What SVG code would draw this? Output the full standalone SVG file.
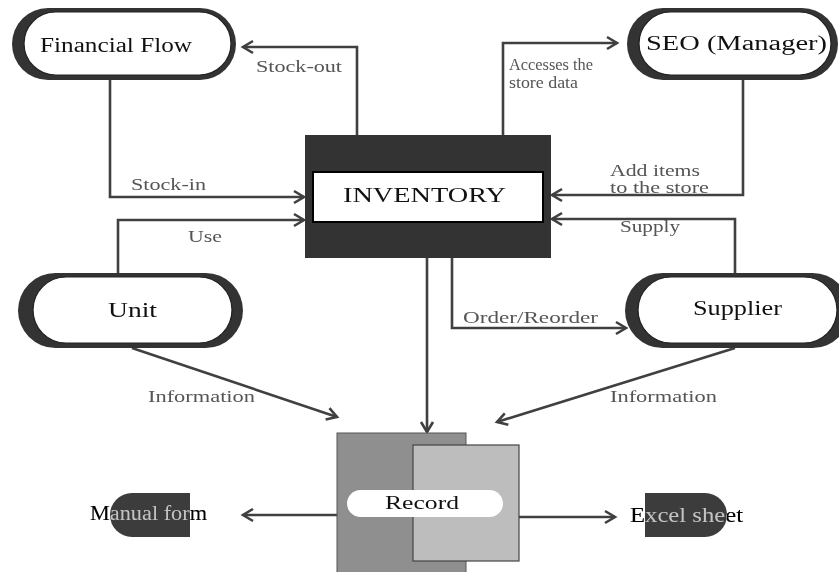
<svg xmlns="http://www.w3.org/2000/svg" width="839" height="572" viewBox="0 0 839 572">
<defs>
<marker id="arr" markerUnits="userSpaceOnUse" markerWidth="16" markerHeight="16" viewBox="0 0 16 16" refX="13" refY="8" orient="auto">
<path d="M3,2 L13,8 L3,14" fill="none" stroke="#404040" stroke-width="2.6"/>
</marker>
</defs>
<style>
.pillo{fill:#333;}
.pilli{fill:#fff;stroke:#222;stroke-width:1.2;}
.nt{font-family:"Liberation Serif","Times New Roman",serif;font-size:20px;fill:#111;}
.lb{font-family:"Liberation Serif","Times New Roman",serif;font-size:16px;fill:#555;}
.cn{fill:none;stroke:#404040;stroke-width:2.6;marker-end:url(#arr);}
.blend{mix-blend-mode:difference;fill:#fff;font-family:"Liberation Serif","Times New Roman",serif;font-size:20px;}
</style>
<rect x="0" y="0" width="839" height="572" fill="#fff"/>

<g id="connectors">
<path class="cn" d="M357,135 V47 H243"/>
<path class="cn" d="M503,135 V43 H617"/>
<path class="cn" d="M110,80 V197 H304"/>
<path class="cn" d="M118,273 V220 H304"/>
<path class="cn" d="M743,80 V195 H552"/>
<path class="cn" d="M735,273 V219 H552"/>
<path class="cn" d="M427,258 V432"/>
<path class="cn" d="M452,258 V328 H626"/>
<path class="cn" d="M132,348 L337,417"/>
<path class="cn" d="M735,348 L497,422"/>
<path class="cn" d="M337,515 H243"/>
<path class="cn" d="M519,517 H615"/>
<text class="lb" x="256" y="72" textLength="86" lengthAdjust="spacingAndGlyphs">Stock-out</text>
<text class="lb" x="131" y="190" textLength="75" lengthAdjust="spacingAndGlyphs">Stock-in</text>
<text class="lb" x="188" y="242" textLength="34" lengthAdjust="spacingAndGlyphs">Use</text>
<text class="lb" x="509" y="70" textLength="84" lengthAdjust="spacingAndGlyphs">Accesses the</text>
<text class="lb" x="509" y="88" textLength="69" lengthAdjust="spacingAndGlyphs">store data</text>
<text class="lb" x="610" y="176" textLength="90" lengthAdjust="spacingAndGlyphs">Add items</text>
<text class="lb" x="610" y="193" textLength="99" lengthAdjust="spacingAndGlyphs">to the store</text>
<text class="lb" x="620" y="232" textLength="60" lengthAdjust="spacingAndGlyphs">Supply</text>
<text class="lb" x="463" y="323" textLength="135" lengthAdjust="spacingAndGlyphs">Order/Reorder</text>
<text class="lb" x="148" y="402" textLength="107" lengthAdjust="spacingAndGlyphs">Information</text>
<text class="lb" x="610" y="402" textLength="107" lengthAdjust="spacingAndGlyphs">Information</text>
</g>

<g id="financial-flow">
<rect class="pillo" x="12" y="8" width="224" height="72" rx="36"/>
<rect class="pilli" x="24" y="12" width="207" height="63" rx="31.5"/>
<text class="nt" x="40" y="52" textLength="152" lengthAdjust="spacingAndGlyphs">Financial Flow</text>
</g>

<g id="seo-manager">
<rect class="pillo" x="627" y="8" width="211" height="72" rx="36"/>
<rect class="pilli" x="639" y="12" width="192" height="63" rx="31.5"/>
<text class="nt" x="646" y="50" textLength="181" lengthAdjust="spacingAndGlyphs">SEO (Manager)</text>
</g>

<g id="inventory">
<rect x="305" y="135" width="246" height="123" fill="#333"/>
<rect x="313" y="172" width="230" height="50" fill="#fff" stroke="#000" stroke-width="2"/>
<text class="nt" x="343" y="202" textLength="163" lengthAdjust="spacingAndGlyphs">INVENTORY</text>
</g>

<g id="unit">
<rect class="pillo" x="18" y="273" width="225" height="75" rx="37.5"/>
<rect class="pilli" x="33" y="277" width="199" height="66" rx="33"/>
<text class="nt" x="108" y="317" textLength="49" lengthAdjust="spacingAndGlyphs">Unit</text>
</g>

<g id="supplier">
<rect class="pillo" x="625" y="273" width="225" height="75" rx="37.5"/>
<rect class="pilli" x="638" y="277" width="199" height="66" rx="33"/>
<text class="nt" x="693" y="315" textLength="89" lengthAdjust="spacingAndGlyphs">Supplier</text>
</g>

<g id="record">
<rect x="337" y="433" width="129" height="145" fill="#8f8f8f" stroke="#555" stroke-width="1"/>
<rect x="413" y="445" width="106" height="116" fill="#bdbdbd" stroke="#444" stroke-width="1.2"/>
<rect x="347" y="490" width="156" height="27" rx="13.5" fill="#fff"/>
<text class="nt" x="385" y="509" textLength="74" lengthAdjust="spacingAndGlyphs" style="font-size:19px">Record</text>
</g>

<g id="manual-form">
<path d="M190,493 H132 A22,22 0 0 0 132,537 H190 Z" fill="#3c3c3c"/>
<text class="blend" x="90" y="520" textLength="117" lengthAdjust="spacingAndGlyphs">Manual form</text>
</g>

<g id="excel-sheet">
<path d="M645,493 H705 A22,22 0 0 1 705,537 H645 Z" fill="#3c3c3c"/>
<text class="blend" x="630" y="522" textLength="113" lengthAdjust="spacingAndGlyphs">Excel sheet</text>
</g>
</svg>
